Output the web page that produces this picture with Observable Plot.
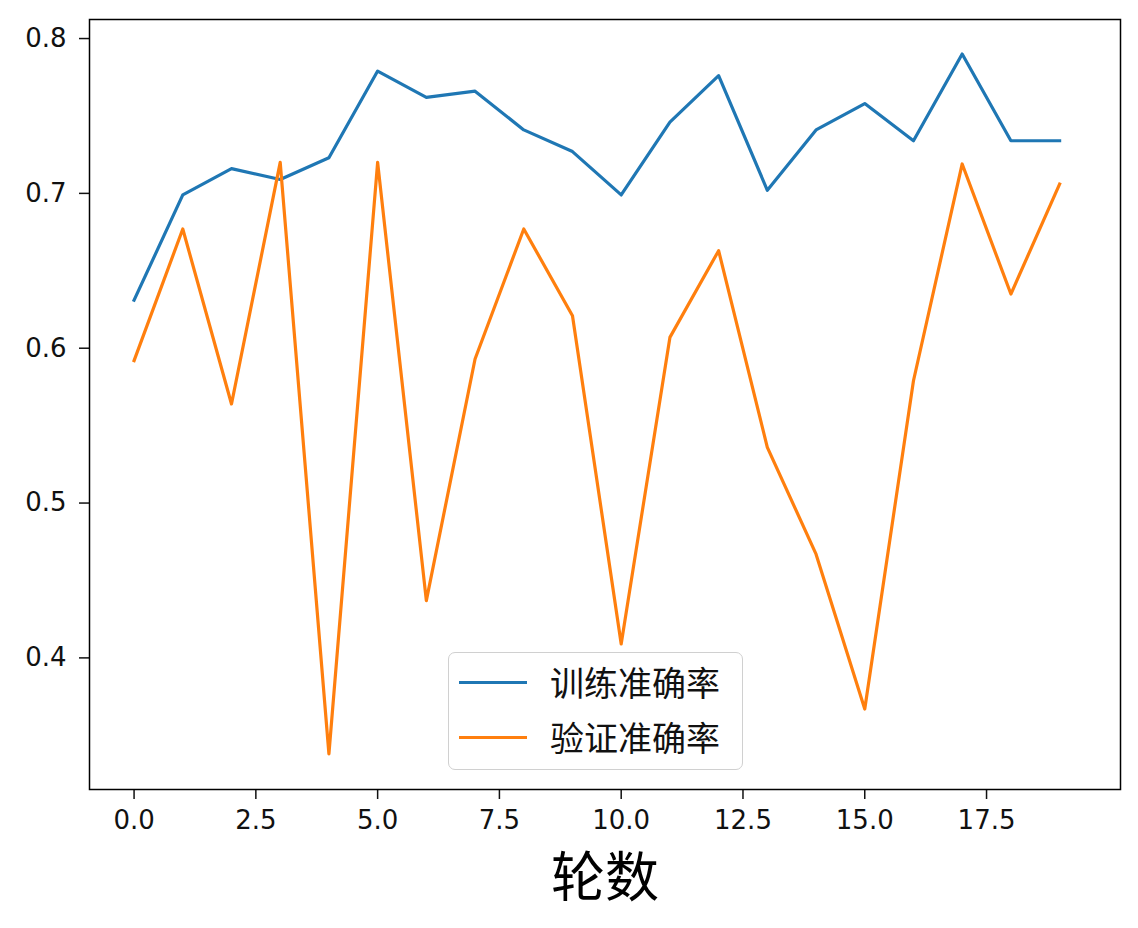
<!DOCTYPE html>
<html>
<head>
<meta charset="utf-8">
<script src="https://cdn.jsdelivr.net/npm/d3@7"></script>
<script src="https://cdn.jsdelivr.net/npm/@observablehq/plot@0.6"></script>
<style>
  html, body { margin: 0; padding: 0; background: #fff; }
  #wrap { position: relative; width: 1138px; height: 928px; }
  #legend {
    position: absolute; left: 448px; top: 652px; width: 293px; height: 116px;
    border: 1.5px solid #d0d0d0; border-radius: 7px; background: rgba(255,255,255,0.85);
    font-family: "Noto Sans CJK SC", sans-serif; font-size: 34px; color: #111;
  }
  .row { position: absolute; left: 0; height: 40px; display: flex; align-items: center; }
  .sw { position: absolute; left: 10px; width: 68px; height: 3px; }
  .lab { position: absolute; left: 101px; white-space: nowrap; line-height: 1; }
</style>
</head>
<body>
<div id="wrap"></div>
<script>
const epochs = [0,1,2,3,4,5,6,7,8,9,10,11,12,13,14,15,16,17,18,19];
const trainAcc = [0.631,0.699,0.716,0.709,0.723,0.779,0.762,0.766,0.741,0.727,0.699,0.746,0.776,0.702,0.741,0.758,0.734,0.790,0.734,0.734];
const valAcc = [0.592,0.677,0.564,0.720,0.338,0.720,0.437,0.593,0.677,0.621,0.409,0.607,0.663,0.536,0.467,0.367,0.579,0.719,0.635,0.706];
const seriesNames = ["训练准确率", "验证准确率"];
const seriesColors = ["#1f77b4", "#ff7f0e"];
const xTicks = [0, 2.5, 5, 7.5, 10, 12.5, 15, 17.5];
const yTicks = [0.4, 0.5, 0.6, 0.7, 0.8];
const xLabel = "轮数";

const trainData = epochs.map((e, i) => ({epoch: e, acc: trainAcc[i]}));
const valData = epochs.map((e, i) => ({epoch: e, acc: valAcc[i]}));

const chart = Plot.plot({
  width: 1138,
  height: 928,
  marginLeft: 89,
  marginRight: 18,
  marginTop: 19,
  marginBottom: 139,
  style: {fontFamily: "DejaVu Sans, sans-serif", fontSize: "26px", color: "#111", background: "#fff"},
  x: {domain: [-0.915, 20.25]},
  y: {domain: [0.315, 0.8123]},
  marks: [
    Plot.axisX({ticks: xTicks, tickFormat: d3.format(".1f"), tickSize: 10, tickPadding: 11, label: null, fontSize: 26, strokeWidth: 1.5}),
    Plot.axisY({ticks: yTicks, tickFormat: d3.format(".1f"), tickSize: 10, tickPadding: 13, label: null, fontSize: 26, strokeWidth: 1.5}),
    Plot.line(trainData, {x: "epoch", y: "acc", stroke: seriesColors[0], strokeWidth: 3.2, strokeLinejoin: "round", strokeLinecap: "square"}),
    Plot.line(valData, {x: "epoch", y: "acc", stroke: seriesColors[1], strokeWidth: 3.2, strokeLinejoin: "round", strokeLinecap: "square"}),
    Plot.frame({stroke: "#000", strokeWidth: 1.5}),
    Plot.text([xLabel], {frameAnchor: "bottom", lineAnchor: "middle", dy: 90, fontSize: 54, fontFamily: "Noto Sans CJK SC", fill: "#000"})
  ]
});

const wrap = document.getElementById("wrap");
wrap.appendChild(chart);

const legend = document.createElement("div");
legend.id = "legend";
seriesNames.forEach((name, i) => {
  const row = document.createElement("div");
  row.className = "row";
  row.style.top = (i === 0 ? 9 : 64) + "px";
  row.style.width = "100%";
  const sw = document.createElement("div");
  sw.className = "sw";
  sw.style.background = seriesColors[i];
  const lab = document.createElement("div");
  lab.className = "lab";
  lab.textContent = name;
  row.appendChild(sw);
  row.appendChild(lab);
  legend.appendChild(row);
});
wrap.appendChild(legend);
</script>
</body>
</html>
